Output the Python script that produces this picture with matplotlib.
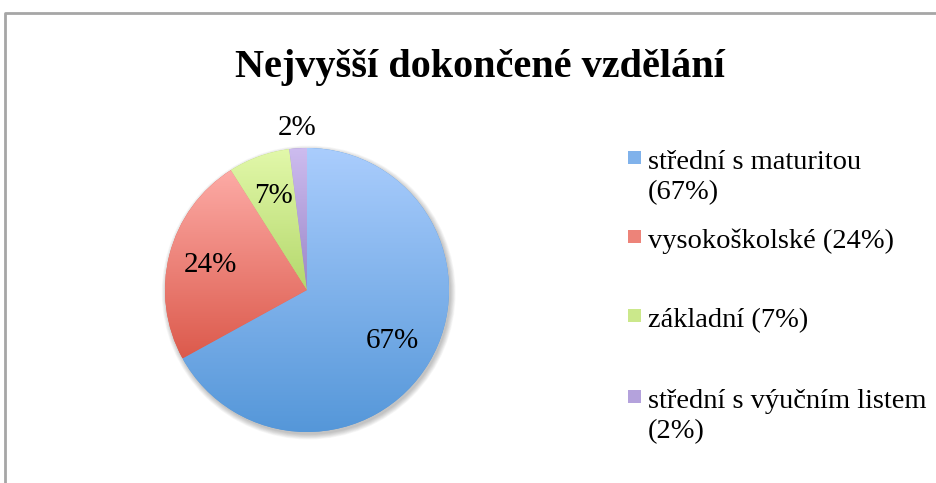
import textwrap
import numpy as np
import matplotlib
matplotlib.use("Agg")
import matplotlib.pyplot as plt
from matplotlib.colors import LinearSegmentedColormap, to_rgb
from matplotlib.patches import Circle, Rectangle
from matplotlib.lines import Line2D

title = "Nejvyšší dokončené vzdělání"
categories = ["střední s maturitou", "vysokoškolské", "základní", "střední s výučním listem"]
values = [67, 24, 7, 2]
# (top colour, bottom colour) of each slice's gradient
grad_colors = [("#aacdfd", "#5597d9"), ("#fdaba6", "#dc5a4c"),
               ("#e2f8aa", "#b4d86c"), ("#cdbcef", "#9b87c8")]
pct_dist = [0.7, 0.7, 0.7, 1.14]

plt.rcParams["font.family"] = ["Liberation Serif", "DejaVu Serif"]

W, H = 937, 483
fig = plt.figure(figsize=(W / 100, H / 100), dpi=100)

# chart border (top and left edges visible)
fig.add_artist(Line2D([5 / W, 5 / W, 1], [0, 1 - 13 / H, 1 - 13 / H],
                      transform=fig.transFigure, color="#a6a6a6", lw=2))

fig.text(480 / W, 1 - 77 / H, title, ha="center", va="baseline",
         fontsize=29, fontweight="bold")

ax = fig.add_axes([165 / W, 1 - 432 / H, 284 / W, 284 / H])
ax.set_xlim(-1, 1)
ax.set_ylim(-1, 1)
ax.set_aspect("equal")
ax.axis("off")

# soft shadow
for k in range(8):
    ax.add_patch(Circle((0.012, -0.018), 1 + 0.005 * k, color="#000000",
                        alpha=0.03, lw=0, zorder=0, clip_on=False))

wedges, _ = ax.pie(values, startangle=90, counterclock=False, radius=1,
                   colors=[c[1] for c in grad_colors],
                   wedgeprops=dict(linewidth=0))

grad = np.linspace(0, 1, 256).reshape(-1, 1)
for w, (top, bot), v, d in zip(wedges, grad_colors, values, pct_dist):
    w.set_zorder(1)
    ext = w.get_path().get_extents()
    cmap = LinearSegmentedColormap.from_list("g", [bot, top])
    im = ax.imshow(grad, cmap=cmap, origin="lower", aspect="auto",
                   extent=[ext.x0, ext.x1, ext.y0, ext.y1], zorder=2)
    im.set_clip_path(w)
    ang = np.deg2rad((w.theta1 + w.theta2) / 2)
    ax.text(d * np.cos(ang), d * np.sin(ang), f"{v}%", ha="center",
            va="center", fontsize=21, zorder=3, clip_on=False)
ax.set_xlim(-1, 1)
ax.set_ylim(-1, 1)

# legend
baselines = [169, 248, 327, 408]
for name, v, (top, bot), yb in zip(categories, values, grad_colors, baselines):
    mid = 0.5 * (np.array(to_rgb(top)) + np.array(to_rgb(bot)))
    fig.add_artist(Rectangle((628 / W, 1 - (yb - 5) / H), 13 / W, 13 / H,
                             transform=fig.transFigure, color=mid, lw=0))
    lines = textwrap.wrap(f"{name} ({v}%)", 24)
    for i, line in enumerate(lines):
        fig.text(648 / W, 1 - (yb + 30 * i) / H, line, ha="left",
                 va="baseline", fontsize=20.5)

fig.savefig("out.png", dpi=100)
